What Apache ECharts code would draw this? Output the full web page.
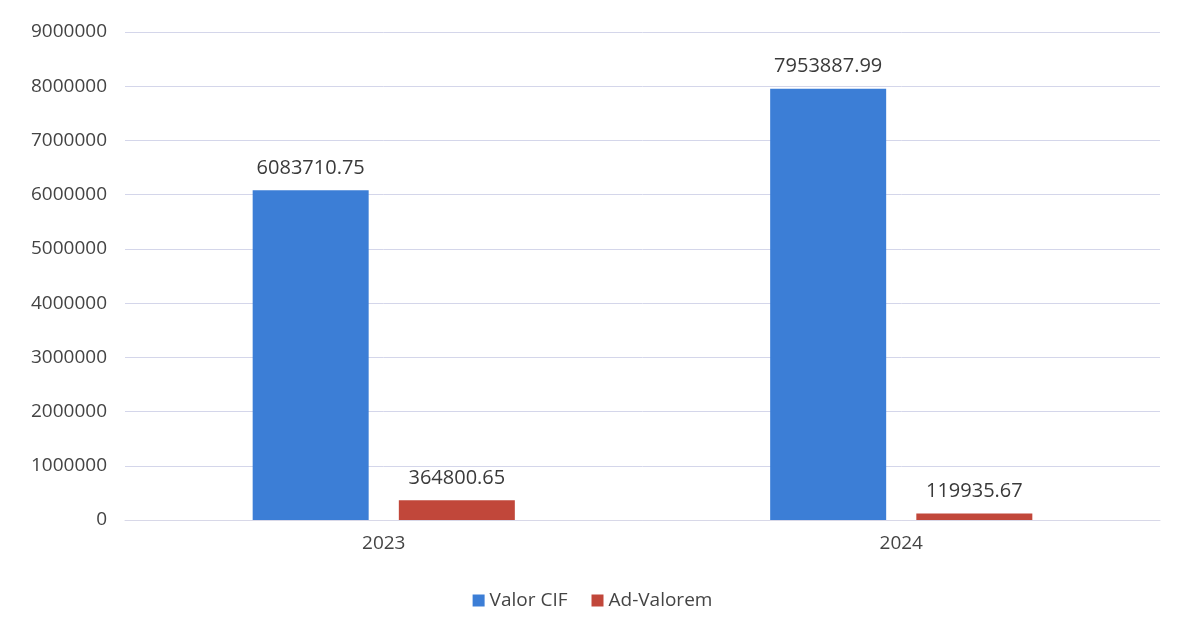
<!DOCTYPE html>
<html>
<head>
<meta charset="utf-8">
<script src="https://cdn.jsdelivr.net/npm/echarts@6/dist/echarts.min.js"></script>
<style>
    html, body { margin: 0; padding: 0; background: #fff; }
    #chart { width: 1185px; height: 631px; }
</style>
</head>
<body>
<div id="chart"></div>
<script>
var years = ['2023', '2024'];
var valorCif = [6083710.75, 7953887.99];
var adValorem = [364800.65, 119935.67];

var chart = echarts.init(document.getElementById('chart'));
var font = '"Open Sans", "Noto Sans", sans-serif';

var option = {
    backgroundColor: '#ffffff',
    textStyle: { fontFamily: font },
    grid: { left: 125, right: 25, top: 32, bottom: 111 },
    legend: {
        bottom: 16,
        left: 'center',
        itemWidth: 12,
        itemHeight: 12,
        itemGap: 24,
        icon: 'rect',
        textStyle: { fontSize: 19, color: '#444', fontFamily: font },
        data: ['Valor CIF', 'Ad-Valorem']
    },
    xAxis: {
        type: 'category',
        data: years,
        axisLine: { show: true, lineStyle: { color: '#d8d8e8' } },
        axisTick: { show: false },
        axisLabel: { fontSize: 19, color: '#444', margin: 14, fontFamily: font }
    },
    yAxis: {
        type: 'value',
        min: 0,
        max: 9000000,
        interval: 1000000,
        axisLine: { show: false },
        axisTick: { show: false },
        axisLabel: {
            fontSize: 19,
            color: '#444',
            margin: 18,
            fontFamily: font,
            formatter: function (v) { return String(v); }
        },
        splitLine: { lineStyle: { color: '#d4d6ea', width: 1 } }
    },
    series: [
        {
            name: 'Valor CIF',
            type: 'bar',
            data: valorCif,
            barWidth: 116,
            barGap: '26%',
            itemStyle: { color: '#3c7ed6' },
            label: {
                show: true,
                position: 'top',
                distance: 12,
                fontSize: 20,
                color: '#3a3a3a',
                fontFamily: font
            }
        },
        {
            name: 'Ad-Valorem',
            type: 'bar',
            data: adValorem,
            barWidth: 116,
            itemStyle: { color: '#c1473a' },
            label: {
                show: true,
                position: 'top',
                distance: 12,
                fontSize: 20,
                color: '#3a3a3a',
                fontFamily: font
            }
        }
    ]
};

chart.setOption(option);
</script>
</body>
</html>
